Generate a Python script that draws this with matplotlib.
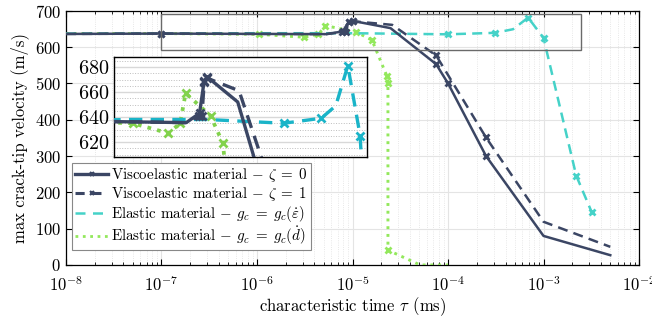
import numpy as np
import matplotlib
matplotlib.use("Agg")
import matplotlib.pyplot as plt
from matplotlib.ticker import LogLocator, MultipleLocator, NullFormatter, NullLocator
from matplotlib.patches import Rectangle
from matplotlib.lines import Line2D

# ─── data ────────────────────────────────────────────────────────────────────
tau_visco0 = [1e-8, 1e-7, 5.3e-6, 7.9e-6, 9.1e-6, 1.0e-5, 2.5e-5, 7.5e-5, 1e-4, 2.5e-4, 1e-3, 5e-3]
vel_visco0 = [636, 637, 635.5, 643, 669, 672, 652, 553, 500, 300, 80, 27]
mk_visco0 = [1, 3, 4, 5, 7, 8, 9]

tau_visco1 = [1e-8, 1e-7, 5.3e-6, 7.8e-6, 8.5e-6, 9.1e-6, 1.0e-5, 2.6e-5, 7.5e-5, 2.5e-4, 1e-3, 5e-3]
vel_visco1 = [636, 637, 635.5, 641, 641, 668, 671, 661, 577, 351, 119, 50]
mk_visco1 = [1, 3, 4, 5, 6, 8, 9]

tau_elas_eps = [1e-8, 1e-7, 1e-6, 1e-5, 1e-4, 3.1e-4, 4.8e-4, 6.9e-4, 1e-3, 2.2e-3, 3.2e-3]
vel_elas_eps = [637, 637, 638, 638, 635, 639, 649, 681, 625, 246, 145]
mk_elas_eps = [4, 5, 7, 8, 9, 10]

tau_elas_d = [1e-8, 1e-7, 1.05e-6, 3.1e-6, 4.4e-6, 5.2e-6, 1.1e-5, 1.6e-5, 2.3e-5, 2.35e-5, 2.35e-5, 5.1e-5, 1e-4]
vel_elas_d = [637, 637, 635, 627, 635, 659, 641, 619, 519, 502, 41, 0, 0]
mk_elas_d = [2, 3, 4, 5, 6, 7, 8, 9, 10]

labels = [r"Viscoelastic material $-$ $\zeta\;=\;0$",
          r"Viscoelastic material $-$ $\zeta\;=\;1$",
          r"Elastic material $-$ $g_c\;=\;g_c(\dot{\varepsilon})$",
          r"Elastic material $-$ $g_c\;=\;g_c(\dot{d})$"]

# ─── style ───────────────────────────────────────────────────────────────────
plt.rcParams['font.family'] = 'serif'
plt.rcParams['font.serif'] = ['cmr10', 'DejaVu Serif']
plt.rcParams['mathtext.fontset'] = 'cm'
plt.rcParams['axes.formatter.use_mathtext'] = True

NAVY = "#3b4664"
CYAN = "#45d2c8"
GREEN = "#93e85c"
CYAN_IN = "#1ab4c8"
GREEN_IN = "#82d24c"
MK = "x"
DASH = (0, (4, 2.5))


def draw_curves(ax, lw, ms, cyan, green):
    ax.plot(tau_elas_d, vel_elas_d, ls=":", color=green, lw=lw + 0.3,
            marker=MK, ms=ms, mew=2.0, markevery=mk_elas_d, zorder=3)
    ax.plot(tau_elas_eps, vel_elas_eps, ls=DASH, color=cyan, lw=lw,
            marker=MK, ms=ms, mew=2.0, markevery=mk_elas_eps, zorder=4)
    ax.plot(tau_visco1, vel_visco1, ls=DASH, color=NAVY, lw=lw,
            marker=MK, ms=ms, mew=2.0, markevery=mk_visco1, zorder=5)
    ax.plot(tau_visco0, vel_visco0, ls="-", color=NAVY, lw=lw,
            marker=MK, ms=ms, mew=2.0, markevery=mk_visco0, zorder=6)


fig = plt.figure(figsize=(6.52, 3.2), dpi=100)
ax = fig.add_axes([0.1012, 0.1719, 0.8789, 0.7947])

draw_curves(ax, 1.8, 5, CYAN, GREEN)

ax.set_xscale("log")
ax.set_xlim(1e-8, 1e-2)
ax.set_ylim(0, 700)
ax.yaxis.set_major_locator(MultipleLocator(100))
ax.xaxis.set_major_locator(LogLocator(base=10, numticks=10))
ax.xaxis.set_minor_locator(LogLocator(base=10, subs=np.arange(2, 10), numticks=100))
ax.xaxis.set_minor_formatter(NullFormatter())
ax.tick_params(which="both", direction="in", top=True, right=True, labelsize=12)
ax.tick_params(axis="x", which="major", pad=7)
ax.tick_params(which="major", length=4)
ax.tick_params(which="minor", length=2.5)
ax.grid(True, which="major", color="#e4e4e4", lw=0.8)
ax.grid(True, which="minor", axis="x", color="#e0e0e0", lw=0.6, ls=":")
ax.set_axisbelow(True)
for s in ax.spines.values():
    s.set_linewidth(0.9)
ax.set_xlabel(r"characteristic time $\tau$ (ms)", fontsize=12, labelpad=1)
ax.set_ylabel("max crack-tip velocity (m/s)", fontsize=12, labelpad=4)

# zoom rectangle
ax.add_patch(Rectangle((1e-7, 592), 2.47e-3 - 1e-7, 98, fill=False,
                       edgecolor="#6a6a6a", lw=1.0, zorder=7))

handles = [
    Line2D([], [], color=NAVY, lw=2.4, marker=MK, ms=3.5, mew=1.5),
    Line2D([], [], color=NAVY, lw=2.2, ls=(0, (3, 2.5)), marker=MK, ms=3.5, mew=1.5),
    Line2D([], [], color=CYAN, lw=1.8, ls=(0, (4, 3))),
    Line2D([], [], color=GREEN, lw=2.0, ls=":"),
]
leg = ax.legend(handles, labels,
                loc="lower left", bbox_to_anchor=(0.011, 0.058), fontsize=10.8,
                handlelength=2.2, handletextpad=0.2, borderpad=0.2,
                labelspacing=0.05, borderaxespad=0.0, fancybox=False,
                framealpha=1.0, edgecolor="#888888", numpoints=1)
leg.get_frame().set_linewidth(0.8)
leg.set_zorder(10)

# ─── inset ───────────────────────────────────────────────────────────────────
axin = fig.add_axes([114 / 652, 1 - 157 / 320, 253 / 652, 100 / 320])
draw_curves(axin, 2.4, 6, CYAN_IN, GREEN_IN)
axin.set_xscale("log")
axin.set_xlim(6.0e-7, 1.23e-3)
axin.set_ylim(608, 688)
axin.yaxis.set_major_locator(MultipleLocator(20))
axin.yaxis.set_minor_locator(MultipleLocator(5))
axin.xaxis.set_major_locator(NullLocator())
axin.xaxis.set_minor_locator(NullLocator())
axin.tick_params(which="both", direction="in", labelsize=14.5, length=0)
axin.grid(True, which="major", axis="y", color="#d8d8d8", lw=1.0)
axin.grid(True, which="minor", axis="y", color="#bdbdbd", lw=0.7, ls=":")
axin.set_axisbelow(True)
for s in axin.spines.values():
    s.set_linewidth(1.0)
axin.set_zorder(9)

fig.savefig("out.png", dpi=100)
